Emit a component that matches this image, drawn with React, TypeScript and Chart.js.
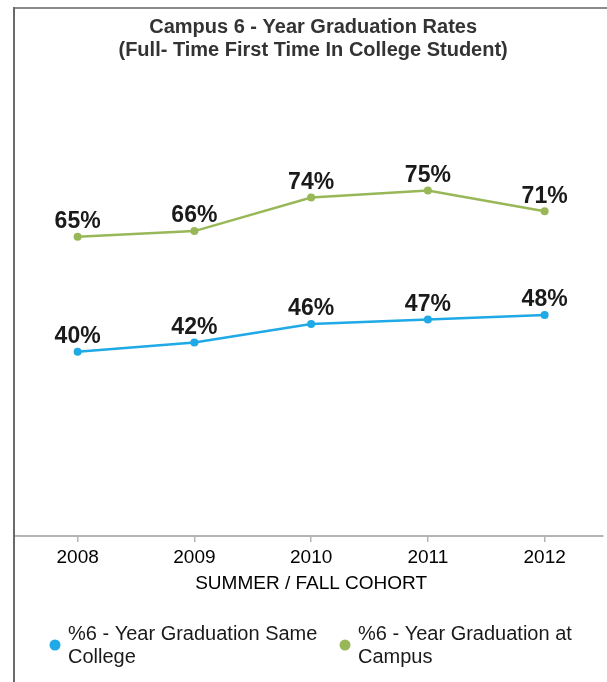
import React, { useEffect, useRef } from "react";
import { Chart, registerables } from "chart.js";

Chart.register(...registerables);

const years = ["2008", "2009", "2010", "2011", "2012"];
const sameCollege = [40, 42, 46, 47, 48];
const atCampus = [65, 66.2, 73.5, 75, 70.5];
const seriesNames = ["%6 - Year Graduation Same College", "%6 - Year Graduation at Campus"];
const legendLines = [
  ["%6 - Year Graduation Same", "College"],
  ["%6 - Year Graduation at", "Campus"],
];
const titleLines = ["Campus 6 - Year Graduation Rates", "(Full- Time First Time In College Student)"];
const xAxisTitle = "SUMMER / FALL COHORT";

const BLUE = "#1fa9e6";
const GREEN = "#98b857";
const FONT = "'Liberation Sans', Arial, sans-serif";

const framePlugin = {
  id: "frame",
  beforeDraw(chart: any) {
    const ctx = chart.ctx;
    ctx.save();
    ctx.fillStyle = "#ffffff";
    ctx.fillRect(0, 0, chart.width, chart.height);
    ctx.strokeStyle = "#8a8a8a";
    ctx.lineWidth = 2;
    ctx.beginPath();
    ctx.moveTo(14, 8);
    ctx.lineTo(chart.width, 8);
    ctx.stroke();
    ctx.strokeStyle = "#6a6a6a";
    ctx.beginPath();
    ctx.moveTo(14, 7);
    ctx.lineTo(14, chart.height);
    ctx.stroke();
    const b = chart.chartArea.bottom;
    ctx.strokeStyle = "#b4b4b4";
    ctx.beginPath();
    ctx.moveTo(15, b);
    ctx.lineTo(chart.chartArea.left + 1, b);
    ctx.stroke();
    ctx.restore();
  },
};

const valueLabelPlugin = {
  id: "valueLabels",
  afterDatasetsDraw(chart: any) {
    const ctx = chart.ctx;
    ctx.save();
    ctx.font = `bold 23px ${FONT}`;
    ctx.fillStyle = "#1a1a1a";
    ctx.textAlign = "center";
    ctx.textBaseline = "middle";
    chart.data.datasets.forEach((ds: any, i: number) => {
      const meta = chart.getDatasetMeta(i);
      meta.data.forEach((pt: any, j: number) => {
        const v = ds.data[j];
        ctx.fillText(`${Math.round(v)}%`, pt.x, pt.y - 15);
      });
    });
    ctx.restore();
  },
};

const legendPlugin = {
  id: "customLegend",
  afterDraw(chart: any) {
    const ctx = chart.ctx;
    const xs = [55, 345];
    const cy = 645;
    ctx.save();
    chart.data.datasets.forEach((ds: any, i: number) => {
      const x = xs[i];
      ctx.fillStyle = ds.borderColor;
      ctx.beginPath();
      ctx.arc(x, cy, 5.5, 0, Math.PI * 2);
      ctx.fill();
      ctx.fillStyle = "#1a1a1a";
      ctx.font = `20px ${FONT}`;
      ctx.textAlign = "left";
      ctx.textBaseline = "middle";
      legendLines[i].forEach((line, k) => {
        ctx.fillText(line, x + 13, cy - 11 + k * 23);
      });
    });
    ctx.restore();
  },
};

export default function App() {
  const ref = useRef<HTMLCanvasElement | null>(null);

  useEffect(() => {
    if (!ref.current) return;
    const chart = new Chart(ref.current, {
      type: "line",
      data: {
        labels: years,
        datasets: [
          {
            label: seriesNames[0],
            data: sameCollege,
            borderColor: BLUE,
            backgroundColor: BLUE,
            borderWidth: 2.5,
            pointRadius: 4,
            pointBackgroundColor: BLUE,
            pointBorderWidth: 0,
            tension: 0,
          },
          {
            label: seriesNames[1],
            data: atCampus,
            borderColor: GREEN,
            backgroundColor: GREEN,
            borderWidth: 2.5,
            pointRadius: 4,
            pointBackgroundColor: GREEN,
            pointBorderWidth: 0,
            tension: 0,
          },
        ],
      },
      options: {
        responsive: false,
        animation: false,
        layout: { padding: { left: 19.25, right: 0, top: 0, bottom: 86.5 } },
        plugins: {
          legend: { display: false },
          tooltip: { enabled: false },
          title: {
            display: true,
            text: titleLines,
            color: "#333333",
            font: { family: FONT, size: 20, weight: "bold", lineHeight: 1.15 },
            padding: { top: 15.5, bottom: 14 },
          },
        },
        scales: {
          x: {
            offset: true,
            grid: {
              display: true,
              drawOnChartArea: false,
              drawTicks: true,
              tickLength: 6,
              color: "#b4b4b4",
              lineWidth: 1.5,
            },
            border: { display: true, color: "#b4b4b4", width: 2 },
            ticks: {
              color: "#000000",
              padding: 4,
              font: { family: FONT, size: 19 },
            },
            title: {
              display: true,
              text: xAxisTitle,
              color: "#000000",
              font: { family: FONT, size: 19 },
              padding: { top: 0, bottom: 0 },
            },
          },
          y: {
            display: false,
            min: 0,
            max: 100,
          },
        },
      },
      plugins: [framePlugin, valueLabelPlugin, legendPlugin],
    });
    return () => chart.destroy();
  }, []);

  return (
    <div style={{ position: "fixed", left: 0, top: 0, width: 607, height: 682, background: "#fff" }}>
      <canvas ref={ref} width={607} height={682} style={{ width: 607, height: 682, display: "block" }} />
    </div>
  );
}
